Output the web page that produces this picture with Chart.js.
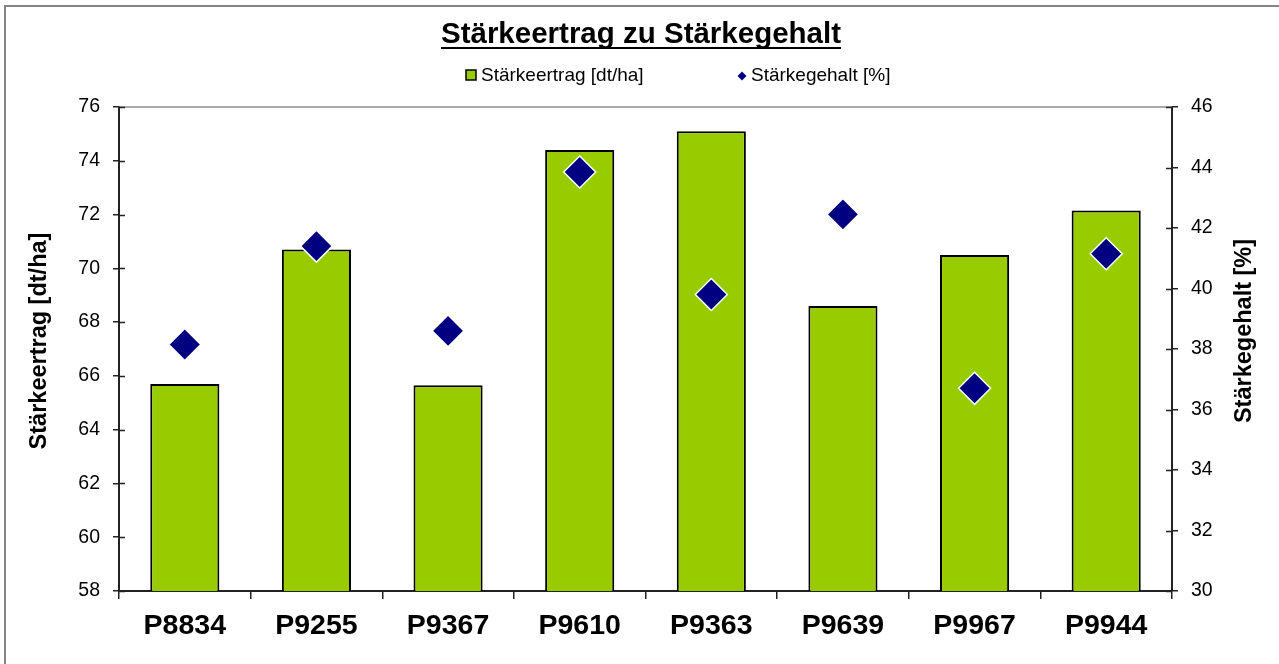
<!DOCTYPE html>
<html>
<head>
<meta charset="utf-8">
<script src="https://cdn.jsdelivr.net/npm/chart.js@4.4.0/dist/chart.umd.min.js"></script>
<style>
  html, body { margin: 0; padding: 0; background: #fff; }
  #wrap { width: 1279px; height: 664px; position: relative; }
  canvas { display: block; }
</style>
</head>
<body>
<div id="wrap"><canvas id="c" width="1279" height="664"></canvas></div>
<script>
const chartTitle = "Stärkeertrag zu Stärkegehalt";
const categories = ["P8834", "P9255", "P9367", "P9610", "P9363", "P9639", "P9967", "P9944"];
const seriesYieldName = "Stärkeertrag [dt/ha]";
const seriesContentName = "Stärkegehalt [%]";
const yieldValues = [65.7, 70.7, 65.65, 74.4, 75.1, 68.6, 70.5, 72.15];
const contentValues = [38.15, 41.4, 38.6, 43.85, 39.8, 42.45, 36.7, 41.15];
const leftAxisTitle = "Stärkeertrag [dt/ha]";
const rightAxisTitle = "Stärkegehalt [%]";

const FONT = "'Liberation Sans', Arial, sans-serif";
const GREEN = "#99CC00";
const NAVY = "#000080";
const AXIS = "#222222";

const decorPlugin = {
  id: "decor",
  beforeDraw(chart) {
    const ctx = chart.ctx;
    ctx.save();
    ctx.fillStyle = "#fff";
    ctx.fillRect(0, 0, chart.width, chart.height);
    ctx.strokeStyle = "#858585";
    ctx.lineWidth = 2;
    ctx.beginPath();
    ctx.moveTo(5, chart.height);
    ctx.lineTo(5, 6);
    ctx.lineTo(chart.width, 6);
    ctx.stroke();
    ctx.restore();
  },
  afterDatasetsDraw(chart) {
    const ctx = chart.ctx;
    const a = chart.chartArea;
    ctx.save();
    ctx.strokeStyle = "#8c8c8c";
    ctx.lineWidth = 1.5;
    ctx.beginPath();
    ctx.moveTo(a.left, a.top);
    ctx.lineTo(a.right, a.top);
    ctx.stroke();
    ctx.strokeStyle = AXIS;
    ctx.lineWidth = 1.5;
    const yl = chart.scales.y, yr = chart.scales.y1;
    yl.ticks.forEach(t => {
      const py = Math.round(yl.getPixelForValue(t.value)) + 0.5;
      ctx.beginPath(); ctx.moveTo(a.left, py); ctx.lineTo(a.left + 6, py); ctx.stroke();
    });
    yr.ticks.forEach(t => {
      const py = Math.round(yr.getPixelForValue(t.value)) + 0.5;
      ctx.beginPath(); ctx.moveTo(a.right - 6, py); ctx.lineTo(a.right, py); ctx.stroke();
    });
    ctx.restore();
  },
  afterDraw(chart) {
    const ctx = chart.ctx;
    ctx.save();
    // title with underline
    ctx.font = "bold 29.5px " + FONT;
    ctx.fillStyle = "#000";
    ctx.textAlign = "center";
    ctx.textBaseline = "alphabetic";
    const cx = 641, by = 43;
    ctx.fillText(chartTitle, cx, by);
    const w = ctx.measureText(chartTitle).width;
    ctx.fillRect(cx - w / 2, by + 4, w, 2);
    // axis titles (both read bottom-to-top)
    ctx.font = "bold 23.5px " + FONT;
    ctx.textBaseline = "middle";
    ctx.save();
    ctx.translate(40, 341);
    ctx.rotate(-Math.PI / 2);
    ctx.fillText(leftAxisTitle, 0, 0);
    ctx.restore();
    ctx.save();
    ctx.translate(1245, 331);
    ctx.rotate(-Math.PI / 2);
    ctx.fillText(rightAxisTitle, 0, 0);
    ctx.restore();
    // legend
    ctx.font = "19px " + FONT;
    ctx.textAlign = "left";
    ctx.textBaseline = "alphabetic";
    ctx.fillStyle = GREEN;
    ctx.fillRect(466, 70, 10, 10);
    ctx.strokeStyle = "#000";
    ctx.lineWidth = 1.5;
    ctx.strokeRect(466, 70, 10, 10);
    ctx.fillStyle = "#000";
    ctx.fillText(seriesYieldName, 481, 81);
    ctx.fillStyle = NAVY;
    ctx.beginPath();
    ctx.moveTo(742, 71.5); ctx.lineTo(746.5, 76); ctx.lineTo(742, 80.5); ctx.lineTo(737.5, 76);
    ctx.closePath(); ctx.fill();
    ctx.fillStyle = "#000";
    ctx.fillText(seriesContentName, 751, 81);
    ctx.restore();
  }
};

new Chart(document.getElementById("c"), {
  data: {
    labels: categories,
    datasets: [
      {
        type: "line",
        label: seriesContentName,
        data: contentValues,
        yAxisID: "y1",
        showLine: false,
        pointStyle: "rectRot",
        pointRadius: 16,
        pointHoverRadius: 16,
        pointBackgroundColor: NAVY,
        pointBorderColor: "#ffffff",
        pointBorderWidth: 1.5,
        order: 0
      },
      {
        type: "bar",
        label: seriesYieldName,
        data: yieldValues,
        yAxisID: "y",
        backgroundColor: GREEN,
        borderColor: "#000",
        borderWidth: 2,
        borderSkipped: false,
        barPercentage: 0.525,
        categoryPercentage: 1,
        order: 1
      }
    ]
  },
  options: {
    responsive: false,
    animation: false,
    layout: { padding: { top: 107, left: 0, right: 0, bottom: 0 } },
    plugins: { legend: { display: false }, title: { display: false }, tooltip: { enabled: false } },
    scales: {
      x: {
        type: "category",
        offset: true,
        afterFit: s => { s.height = 73; },
        grid: { display: true, drawOnChartArea: false, drawTicks: true, tickLength: 8, offset: true, color: AXIS, lineWidth: 1.5 },
        border: { display: true, color: AXIS, width: 2 },
        ticks: { color: "#000", font: { family: FONT, size: 28.5, weight: "bold" }, padding: 10, maxRotation: 0 }
      },
      y: {
        position: "left",
        min: 58, max: 76,
        afterFit: s => { s.width = 119; },
        grid: { display: true, drawOnChartArea: false, drawTicks: true, tickLength: 6, color: AXIS, lineWidth: 1.5 },
        border: { display: true, color: AXIS, width: 2 },
        ticks: { stepSize: 2, color: "#000", font: { family: FONT, size: 19.5 }, padding: 13 }
      },
      y1: {
        position: "right",
        min: 30, max: 46,
        afterFit: s => { s.width = 107; },
        grid: { display: true, drawOnChartArea: false, drawTicks: true, tickLength: 6, color: AXIS, lineWidth: 1.5 },
        border: { display: true, color: AXIS, width: 2 },
        ticks: { stepSize: 2, color: "#000", font: { family: FONT, size: 19.5 }, padding: 13 }
      }
    }
  },
  plugins: [decorPlugin]
});
</script>
</body>
</html>
